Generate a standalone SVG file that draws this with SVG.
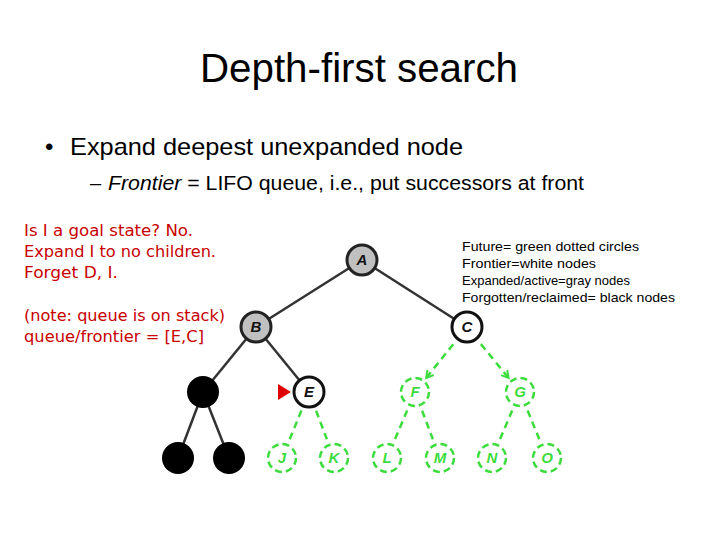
<svg xmlns="http://www.w3.org/2000/svg" width="720" height="540" viewBox="0 0 720 540">
<defs>
<style>
.title{font-family:"Liberation Sans",Arial,sans-serif;font-size:40px;fill:#000}
.b1{font-family:"Liberation Sans",Arial,sans-serif;font-size:24px;fill:#000}
.b2{font-family:"Liberation Sans",Arial,sans-serif;font-size:20px;fill:#000}
.red{font-family:"DejaVu Sans",Verdana,sans-serif;font-size:16px;fill:#c80000}
.leg{font-family:"Liberation Sans",Arial,sans-serif;font-size:13px;fill:#000}
.solid{stroke:#333;stroke-width:2.5;fill:none}
.dash{stroke:#3ddc3d;stroke-width:2.5;stroke-dasharray:7 5;fill:none}
.gray{fill:#c0c0c0;stroke:#222;stroke-width:3}
.white{fill:#fff;stroke:#111;stroke-width:3}
.blk{fill:#000}
.green{fill:#fff;stroke:#3ddc3d;stroke-width:2.5;stroke-dasharray:7 4}
.lbl{font-family:"Liberation Sans",Arial,sans-serif;font-size:15px;font-style:italic;font-weight:bold;text-anchor:middle;fill:#111}
.glbl{font-family:"Liberation Sans",Arial,sans-serif;font-size:15px;font-style:italic;font-weight:bold;text-anchor:middle;fill:#3ddc3d}
</style>
<marker id="v" viewBox="0 0 10 10" refX="8" refY="5" markerWidth="4" markerHeight="4" orient="auto" markerUnits="strokeWidth">
<polyline points="1,1 8,5 1,9" fill="none" stroke="#3ddc3d" stroke-width="2"/>
</marker>
</defs>
<rect width="720" height="540" fill="#fff"/>
<text class="title" x="200" y="82" textLength="318" lengthAdjust="spacingAndGlyphs">Depth-first search</text>
<text class="b1" x="45" y="155">•</text>
<text class="b1" x="70" y="155" textLength="393" lengthAdjust="spacingAndGlyphs">Expand deepest unexpanded node</text>
<text class="b2" x="90" y="190">–</text>
<text class="b2" x="108" y="190" textLength="476" lengthAdjust="spacingAndGlyphs"><tspan font-style="italic">Frontier</tspan> = LIFO queue, i.e., put successors at front</text>
<g id="note">
<text class="red" x="24" y="236" textLength="169" lengthAdjust="spacingAndGlyphs">Is I a goal state? No.</text>
<text class="red" x="24" y="257" textLength="192" lengthAdjust="spacingAndGlyphs">Expand I to no children.</text>
<text class="red" x="24" y="278" textLength="94" lengthAdjust="spacingAndGlyphs">Forget D, I.</text>
<text class="red" x="24" y="321" textLength="201" lengthAdjust="spacingAndGlyphs">(note: queue is on stack)</text>
<text class="red" x="24" y="342" textLength="180" lengthAdjust="spacingAndGlyphs">queue/frontier = [E,C]</text>
</g>
<g id="legend">
<text class="leg" x="462" y="251" textLength="177" lengthAdjust="spacingAndGlyphs">Future= green dotted circles</text>
<text class="leg" x="462" y="268" textLength="134" lengthAdjust="spacingAndGlyphs">Frontier=white nodes</text>
<text class="leg" x="462" y="285" font-size="12.5">Expanded/active=gray nodes</text>
<text class="leg" x="462" y="302" textLength="213" lengthAdjust="spacingAndGlyphs">Forgotten/reclaimed= black nodes</text>
</g>
<g id="connectors">
<line class="solid" x1="362" y1="260" x2="256" y2="327"/>
<line class="solid" x1="362" y1="260" x2="467" y2="327"/>
<line class="solid" x1="256" y1="327" x2="203" y2="392"/>
<line class="solid" x1="256" y1="327" x2="309" y2="392"/>
<line class="solid" x1="203" y1="392" x2="178" y2="458"/>
<line class="solid" x1="203" y1="392" x2="229" y2="458"/>
<line class="dash" x1="301.4" y1="410.5" x2="289.6" y2="439.5"/>
<line class="dash" x1="316.1" y1="410.7" x2="326.9" y2="439.3"/>
<line class="dash" x1="453.3" y1="344.2" x2="426.2" y2="377.9" marker-end="url(#v)"/>
<line class="dash" x1="480.9" y1="344.1" x2="508.6" y2="378" marker-end="url(#v)"/>
<line class="dash" x1="407.2" y1="410.4" x2="394.8" y2="439.6"/>
<line class="dash" x1="422.1" y1="410.7" x2="432.9" y2="439.3"/>
<line class="dash" x1="512.2" y1="410.4" x2="499.8" y2="439.6"/>
<line class="dash" x1="527.6" y1="410.5" x2="539.4" y2="439.5"/>
</g>
<g id="A"><circle class="gray" cx="362" cy="260" r="15"/><text class="lbl" x="362" y="265">A</text></g>
<g id="B"><circle class="gray" cx="256" cy="327" r="15"/><text class="lbl" x="256" y="332">B</text></g>
<g id="C"><circle class="white" cx="467" cy="327" r="15"/><text class="lbl" x="467" y="332">C</text></g>
<g id="D"><circle class="blk" cx="203" cy="392" r="16"/></g>
<g id="E"><circle class="white" cx="309" cy="392" r="15"/><text class="lbl" x="309" y="397">E</text></g>
<g id="F"><circle class="green" cx="415" cy="392" r="14"/><text class="glbl" x="415" y="397">F</text></g>
<g id="G"><circle class="green" cx="520" cy="392" r="14"/><text class="glbl" x="520" y="397">G</text></g>
<g id="H"><circle class="blk" cx="178" cy="458" r="16"/></g>
<g id="I"><circle class="blk" cx="229" cy="458" r="16"/></g>
<g id="J"><circle class="green" cx="282" cy="458" r="14"/><text class="glbl" x="282" y="463">J</text></g>
<g id="K"><circle class="green" cx="334" cy="458" r="14"/><text class="glbl" x="334" y="463">K</text></g>
<g id="L"><circle class="green" cx="387" cy="458" r="14"/><text class="glbl" x="387" y="463">L</text></g>
<g id="M"><circle class="green" cx="440" cy="458" r="14"/><text class="glbl" x="440" y="463">M</text></g>
<g id="N"><circle class="green" cx="492" cy="458" r="14"/><text class="glbl" x="492" y="463">N</text></g>
<g id="O"><circle class="green" cx="547" cy="458" r="14"/><text class="glbl" x="547" y="463">O</text></g>
<g id="pointer"><polygon points="278,384 278,400 291,392" fill="#e00000"/></g>
</svg>
